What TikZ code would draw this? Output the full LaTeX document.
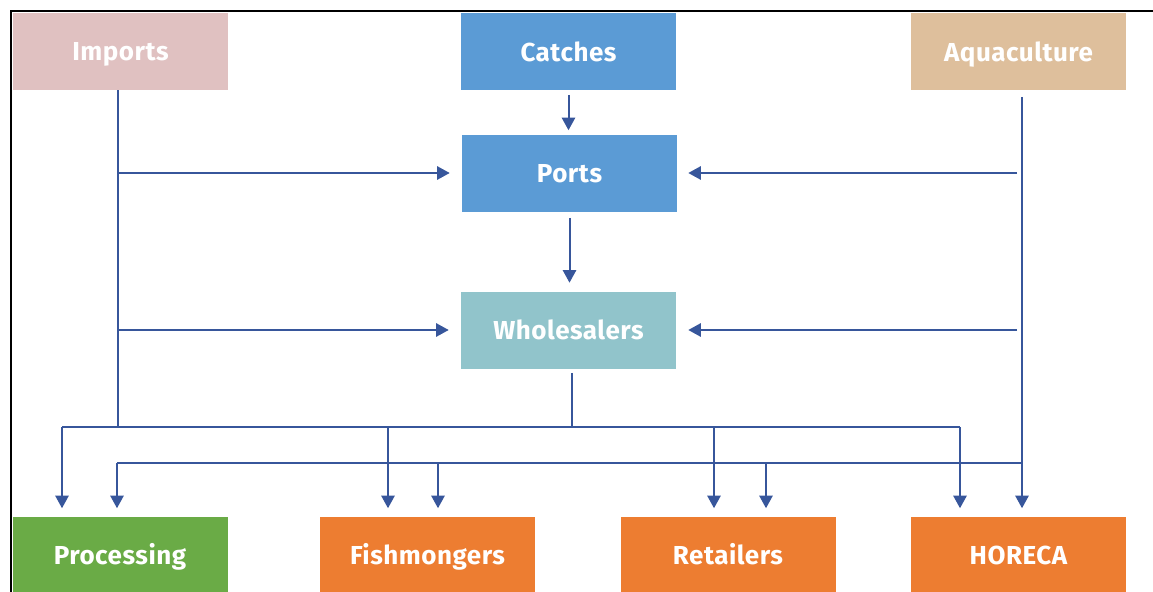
\documentclass[tikz,border=0pt]{standalone}
\usepackage{fontspec}
\setmainfont{Fira Sans}[LetterSpace=2]
\usetikzlibrary{arrows.meta}

\definecolor{importsC}{RGB}{224,193,193}
\definecolor{seaBlue}{RGB}{91,155,213}
\definecolor{aquaC}{RGB}{222,191,156}
\definecolor{wholeC}{RGB}{145,196,203}
\definecolor{procC}{RGB}{106,171,70}
\definecolor{shopC}{RGB}{237,125,49}
\definecolor{wireC}{RGB}{55,86,155}

\tikzset{
  box/.style={rectangle, draw=none, text=white, inner sep=0pt,
    minimum width=161.25pt, minimum height=57.75pt,
    text height=13.6pt, text depth=0pt,
    font=\fontsize{19.5}{22}\selectfont\bfseries},
  wire/.style={draw=wireC, line width=1.5pt},
  flow/.style={wire, -{Triangle[width=10pt,length=9.5pt]}},
}

\begin{document}
\begin{tikzpicture}[x=0.75pt,y=-0.75pt]
\useasboundingbox (0,0) rectangle (1153,592);

% frame
\draw[black, line width=1.4pt] (11,592) -- (11,11) -- (1153,11);

% sources
\node[box, fill=importsC] (Imports) at (120.5,51.5) {Imports};
\node[box, fill=seaBlue] (Catches) at (568.5,52) {Catches};
\node[box, fill=aquaC] (Aquaculture) at (1018.5,52) {Aquaculture};

% middle chain
\node[box, fill=seaBlue] (Ports) at (569.5,173) {Ports};
\node[box, fill=wholeC] (Wholesalers) at (568.5,330) {Wholesalers};

% outlets
\node[box, fill=procC] (Processing) at (120,555) {Processing};
\node[box, fill=shopC] (Fishmongers) at (427.5,555) {Fishmongers};
\node[box, fill=shopC] (Retailers) at (728,555) {Retailers};
\node[box, fill=shopC] (HORECA) at (1018.5,555) {HORECA};

% junction points
\coordinate (impBot) at (118,427);
\coordinate (aqBot) at (1022,463);
\coordinate (aqTap) at (1017,463);
\coordinate (wJ) at (572,427);
\coordinate (busA) at (62,427);
\coordinate (busF) at (388,427);
\coordinate (busR) at (714,427);
\coordinate (busB) at (960,427);
\coordinate (busC) at (117,463);
\coordinate (busG) at (438,463);
\coordinate (busS) at (766,463);

% imports feed
\draw[wire] (Imports.south -| impBot) -- (impBot);
\draw[flow, shorten >=9pt] (impBot |- Ports.west) -- (Ports.west);
\draw[flow, shorten >=9pt] (impBot |- Wholesalers.west) -- (Wholesalers.west);

% aquaculture feed
\draw[flow, shorten <=4.5pt, shorten >=6pt] (Aquaculture.south -| aqBot) -- (aqBot |- HORECA.north);
\draw[flow, shorten >=8.25pt] (aqTap |- Ports.east) -- (Ports.east);
\draw[flow, shorten >=9pt] (aqTap |- Wholesalers.east) -- (Wholesalers.east);

% main chain
\draw[flow, shorten <=3pt, shorten >=3pt] (Catches.south) -- (Catches.south |- Ports.north);
\draw[flow, shorten <=4.5pt, shorten >=6.4pt] (Ports.south) -- (Ports.south |- Wholesalers.north);
\draw[wire, shorten <=3pt] (Wholesalers.south -| wJ) -- (wJ);

% distribution bus from wholesalers and imports
\draw[wire] (busA) -- (busB);
\draw[flow, shorten >=6pt] (busA) -- (busA |- Processing.north);
\draw[flow, shorten >=6pt] (busF) -- (busF |- Fishmongers.north);
\draw[flow, shorten >=6pt] (busR) -- (busR |- Retailers.north);
\draw[flow, shorten >=6pt] (busB) -- (busB |- HORECA.north);

% distribution bus from aquaculture
\draw[wire] (busC) -- (aqBot);
\draw[flow, shorten >=6pt] (busC) -- (busC |- Processing.north);
\draw[flow, shorten >=6pt] (busG) -- (busG |- Fishmongers.north);
\draw[flow, shorten >=6pt] (busS) -- (busS |- Retailers.north);
\end{tikzpicture}
\end{document}
